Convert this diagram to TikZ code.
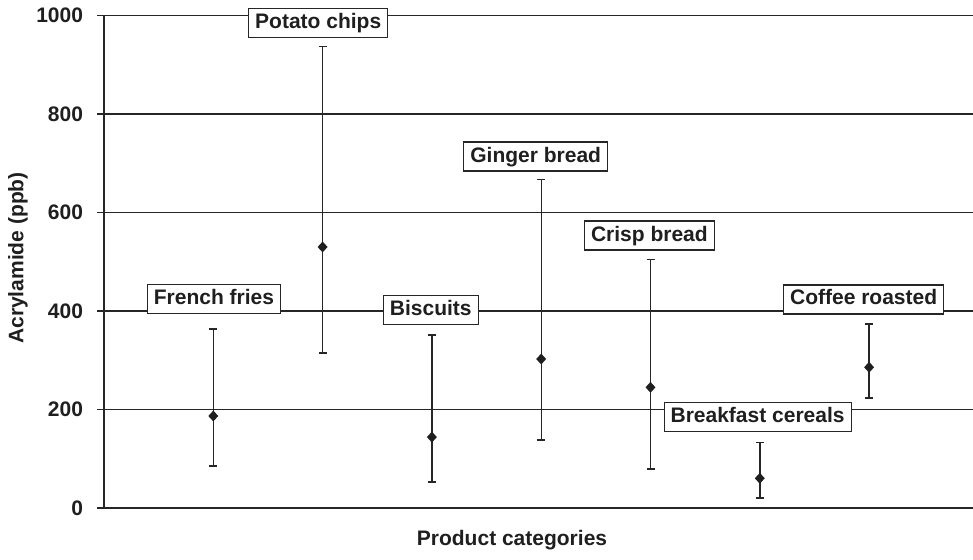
\documentclass[tikz,border=0pt]{standalone}
\usepackage{fontspec}
\setmainfont{Liberation Sans}
\usetikzlibrary{shapes.geometric}

\begin{document}
\begin{tikzpicture}[x=109.3pt,y=0.4925pt,line width=1.4pt,draw=black!85,
    font=\fontsize{21}{25}\selectfont\bfseries,text=black!88,
    lbl/.style={draw,fill=white,line width=1.1pt,inner xsep=6.5pt,inner ysep=4.5pt,
      text height=15.5pt,text depth=4.5pt}]
    \useasboundingbox (-0.9515,-103.6) rectangle (7.9506,1031.5);
    % grid and axes
    \foreach \v in {200,400,...,1000}
      \draw (0,\v) -- (7.9506,\v);
    \foreach \v in {0,200,...,1000} {
      \draw (-0.064,\v) -- (0,\v);
      \node [anchor=east] (t\v) at (-0.1555,\v) {\v};
    }
    \draw (0,0) coordinate (o) -- (0,1000) coordinate (ytop);
    \draw (o) -- (7.9506,0) coordinate (xend);
    \node [rotate=90] (ylab) at (-0.787,507.6) {Acrylamide (ppb)};
    \node (xlab) at (3.733,-65) {Product categories};
    % error bars
    \foreach \i/\lo/\m/\hi in {1/85.3/186.8/363.5, 2/314.7/530/937.4,
        3/53/144/351, 4/138/302.5/667.4, 5/79.2/245/505,
        6/20.3/60.3/132.6, 7/223.4/285.7/373.6} {
      \coordinate (lo\i) at (\i,\lo);
      \coordinate (hi\i) at (\i,\hi);
      \draw (lo\i) -- (hi\i);
      \draw ([xshift=-4pt]lo\i) -- ([xshift=4pt]lo\i);
      \draw ([xshift=-4pt]hi\i) -- ([xshift=4pt]hi\i);
      \node [diamond,fill=black!88,draw=none,inner sep=0pt,minimum width=10.5pt,
        minimum height=11.5pt] (m\i) at (\i,\m) {};
    }
    % labels
    \node [lbl] (fries) at (1.006,424.4) {French fries};
    \node [lbl] (chips) at (1.96,984.8) {Potato chips};
    \node [lbl] (bisc) at (2.99,402) {Biscuits};
    \node [lbl] (ginger) at (3.95,713.7) {Ginger bread};
    \node [lbl] (crisp) at (4.99,553.3) {Crisp bread};
    \node [lbl] (cereal) at (5.98,184.8) {Breakfast cereals};
    \node [lbl] (coffee) at (6.95,423.4) {Coffee roasted};
\end{tikzpicture}
\end{document}
